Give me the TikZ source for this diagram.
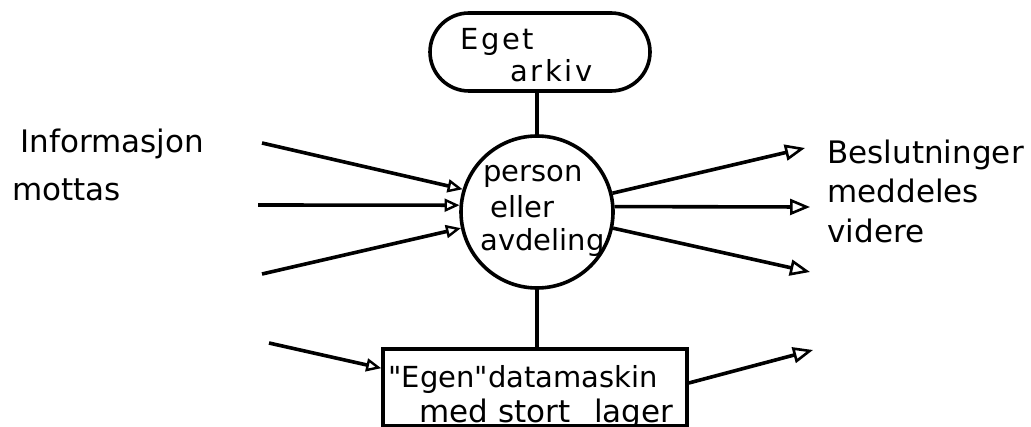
\documentclass[tikz,border=0pt]{standalone}
\usepackage{fontspec}
\setmainfont{DejaVu Sans}
\newfontfamily\widefont[LetterSpace=9]{DejaVu Sans}
\usetikzlibrary{arrows.meta,calc}
\begin{document}
\begin{tikzpicture}[x=0.5pt,y=-0.5pt,
  line/.style={line width=1.8pt},
  arrin/.style={line, -{Triangle[open,length=7.5pt,width=6.5pt,line width=1.2pt]}},
  arrout/.style={line, -{Triangle[open,length=10pt,width=8pt,line width=1.3pt]}},
  lbl/.style={anchor=base west, inner sep=0pt},
  big/.style={font=\fontsize{15.5}{18}\selectfont},
  mid/.style={font=\fontsize{14.5}{17}\selectfont},
  arc/.style={font=\widefont\fontsize{14.5}{17}\selectfont}]
\fill[white] (0,0) rectangle (1031,427);
\useasboundingbox (0,0) rectangle (1031,427);

% shapes
\node[draw, line, rounded corners=19.5pt, minimum width=110pt, minimum height=39pt, inner sep=0pt] (arch) at (540,52) {};
\node[draw, line, circle, minimum size=76pt, inner sep=0pt] (circ) at (537,212) {};
\node[draw, line, minimum width=152pt, minimum height=38.5pt, inner sep=0pt] (box) at (535,387.5) {};

% vertical connectors
\draw[line] (circ.north |- arch.south) -- (circ.north);
\draw[line] (circ.south) -- (circ.south |- box.north);

% incoming
\coordinate (i1) at (262,143);
\coordinate (i2) at (258,205);
\coordinate (i3) at (262,274);
\coordinate (i4) at (269,343);
\draw[arrin] (i1) -- (circ.163);
\draw[arrin] (i2) -- (circ.175.5);
\draw[arrin] (i3) -- (circ.192);
\draw[arrin] (i4) -- ([yshift=-10.5pt]box.north west);

% outgoing
\coordinate (o1) at (805,148);
\coordinate (o2) at (810,207);
\coordinate (o3) at (810,272);
\coordinate (o4) at (813,350);
\draw[arrout] (circ.14) -- (o1);
\draw[arrout] (circ.4) -- (o2);
\draw[arrout] (circ.-12) -- (o3);
\draw[arrout] ([yshift=2.25pt]box.east) -- (o4);

% texts
\node[lbl, arc] (a1) at (460,50) {Eget};
\node[lbl, arc] (a2) at (510,82) {arkiv};

\node[lbl, mid] (c1) at (483,182) {person};
\node[lbl, mid] (c2) at (490,217) {eller};
\node[lbl, mid] (c3) at (480,250) {avdeling};

\node[lbl, big] (l1) at (20,153) {Informasjon};
\node[lbl, big] (l2) at (12,200) {mottas};

\node[lbl, big] (r1) at (827,163) {Beslutninger};
\node[lbl, big] (r2) at (827,202) {meddeles};
\node[lbl, big] (r3) at (827,242) {videre};

\node[lbl, mid] (b1) at (388,387) {\textquotedbl Egen\textquotedbl datamaskin};
\node[lbl, big] (b2) at (419,422) {med stort\hspace{12pt}lager};
\end{tikzpicture}
\end{document}
